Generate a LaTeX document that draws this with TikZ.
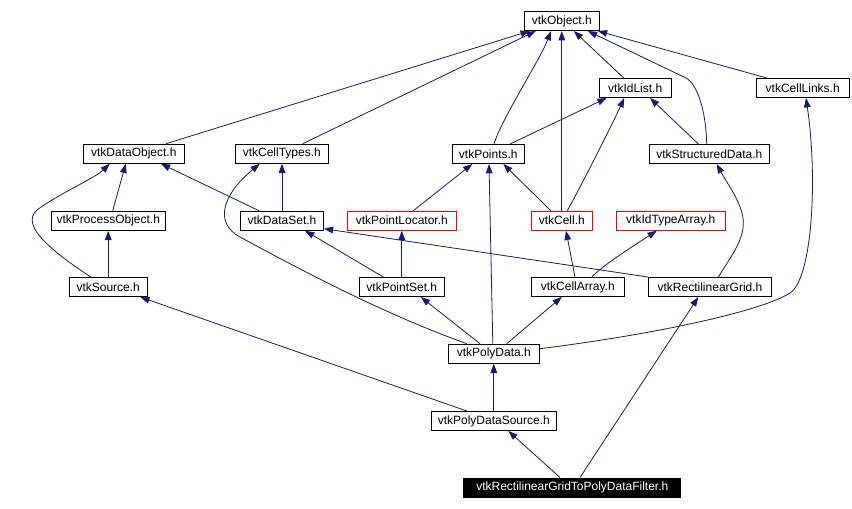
\documentclass[tikz,border=0pt]{standalone}
\usepackage{fontspec}
\setmainfont{Liberation Sans}
\usetikzlibrary{arrows.meta,calc}
\definecolor{edgec}{HTML}{191970}
\begin{document}
\begin{tikzpicture}[x=0.75pt,y=-0.75pt,
  box/.style={draw=black, line width=0.75pt, fill=white, inner sep=0pt, minimum height=14.25pt, font=\fontsize{9}{10}\selectfont, text=black},
  redbox/.style={box, draw=red},
  hlbox/.style={box, fill=black, text=white},
  edge/.style={draw=edgec, line width=0.6pt, -{Triangle[length=7pt,width=5pt]}}]
\useasboundingbox (0,0) rectangle (852,509);
% nodes
\node[box, minimum width=56.25pt] (obj) at (561.8,21) {vtkObject.h};
\node[box, minimum width=53.8pt] (idlist) at (635.2,88) {vtkIdList.h};
\node[box, minimum width=70pt] (celllinks) at (802.7,88) {vtkCellLinks.h};
\node[box, minimum width=75.75pt] (dataobj) at (133.8,153.7) {vtkDataObject.h};
\node[box, minimum width=69.75pt] (celltypes) at (281.8,153.7) {vtkCellTypes.h};
\node[box, minimum width=54pt] (points) at (488.3,154) {vtkPoints.h};
\node[box, minimum width=90pt] (structured) at (709.3,154) {vtkStructuredData.h};
\node[box, minimum width=85.5pt] (procobj) at (108.3,220.7) {vtkProcessObject.h};
\node[box, minimum width=62pt] (dataset) at (282,220.7) {vtkDataSet.h};
\node[redbox, minimum width=81.75pt] (ptloc) at (401.8,220.7) {vtkPointLocator.h};
\node[redbox, minimum width=45.75pt] (cell) at (561.8,220.7) {vtkCell.h};
\node[redbox, minimum width=81.75pt] (idtype) at (670.8,220.7) {vtkIdTypeArray.h};
\node[box, minimum width=58.3pt] (source) at (108.2,287) {vtkSource.h};
\node[box, minimum width=63.75pt] (ptset) at (401.8,287) {vtkPointSet.h};
\node[box, minimum width=69.75pt] (cellarray) at (577.8,287) {vtkCellArray.h};
\node[box, minimum width=92.55pt] (rgrid) at (710,287) {vtkRectilinearGrid.h};
\node[box, minimum width=68.25pt] (polydata) at (493.8,353.7) {vtkPolyData.h};
\node[box, minimum width=93.75pt] (pdsource) at (493.8,421) {vtkPolyDataSource.h};
\node[hlbox, minimum width=162.5pt] (filter) at (572.3,487.5) {vtkRectilinearGridToPolyDataFilter.h};
% edges
\draw[edge] ($(dataobj.north)+(32.2,0)$) -- ($(obj.south)+(-32,0)$);
\draw[edge] ($(celltypes.north)+(21,0)$) -- ($(obj.south)+(-26,0)$);
\draw[edge] ($(points.north)+(5.7,0)$) .. controls (502,118) and (540,60) .. ($(obj.south)+(-10.8,0)$);
\draw[edge] (cell.north) -- (obj.south);
\draw[edge] ($(idlist.north)+(-11.5,0)$) -- ($(obj.south)+(12,0)$);
\draw[edge] ($(structured.north)+(-2.6,0)$) .. controls (706,110) and (697,84) .. (686,78) -- ($(obj.south)+(26,0)$);
\draw[edge] ($(celllinks.north)+(-36,0)$) -- ($(obj.south)+(36,0)$);
\draw[edge] ($(points.north)+(21.7,0)$) -- ($(idlist.south)+(-28.5,0)$);
\draw[edge] ($(cell.north)+(5.5,0)$) .. controls (580,188) and (612,125) .. ($(idlist.south)+(-11,0)$);
\draw[edge] ($(structured.north)+(-11,0)$) -- ($(idlist.south)+(14.8,0)$);
\draw[edge] ($(polydata.east)+(0,-5)$) .. controls (650,335) and (760,312) .. (790,293) .. controls (812,279) and (818,180) .. ($(celllinks.south)+(3.3,0)$);
\draw[edge] ($(procobj.north)+(4.4,0)$) -- ($(dataobj.south)+(-8,0)$);
\draw[edge] ($(source.north)+(-17.5,0)$) .. controls (50,250) and (20,225) .. (37,210) .. controls (55,196) and (95,178) .. ($(dataobj.south)+(-24,0)$);
\draw[edge] ($(dataset.north)+(-23,0)$) -- ($(dataobj.south)+(27,0)$);
\draw[edge] (dataset.north) -- (dataset.north |- celltypes.south);
\draw[edge] ($(polydata.north)+(-27,0)$) .. controls (387,315) and (310,275) .. (240,237) .. controls (214,223) and (222,195) .. ($(celltypes.south)+(-22,0)$);
\draw[edge] ($(ptloc.north)+(11.5,0)$) -- ($(points.south)+(-16,0)$);
\draw[edge] ($(polydata.north)+(-1,0)$) -- ($(points.south)+(0.7,0)$);
\draw[edge] ($(cell.north)+(-11,0)$) -- ($(points.south)+(15,0)$);
\draw[edge] (rgrid.north west) -- ($(dataset.south east)+(0,-2)$);
\draw[edge] ($(ptset.north)+(-18.5,0)$) -- ($(dataset.south)+(23,0)$);
\draw[edge] (ptset.north) -- (ptloc.south);
\draw[edge] (source.north) -- (source.north |- procobj.south);
\draw[edge] ($(cellarray.north)+(-2.8,0)$) -- ($(cell.south)+(4.2,0)$);
\draw[edge] ($(cellarray.north)+(14,0)$) .. controls (602,266) and (630,248) .. ($(idtype.south)+(-14,0)$);
\draw[edge] ($(rgrid.north)+(8.3,0)$) .. controls (730,258) and (746,238) .. (743,218) .. controls (740,200) and (728,185) .. ($(structured.south)+(7.4,0)$);
\draw[edge] ($(polydata.north)+(-13.8,0)$) -- ($(ptset.south)+(19,0)$);
\draw[edge] ($(polydata.north)+(12.9,0)$) -- ($(cellarray.south)+(-16,0)$);
\draw[edge] ($(pdsource.north)+(-27,0)$) -- ($(source.south)+(32,0)$);
\draw[edge] (pdsource.north) -- (polydata.south);
\draw[edge] ($(filter.north)+(-12.3,0)$) -- ($(pdsource.south)+(14.5,0)$);
\draw[edge] ($(filter.north)+(7.7,0)$) -- ($(rgrid.south)+(-11.7,0)$);
\end{tikzpicture}
\end{document}
